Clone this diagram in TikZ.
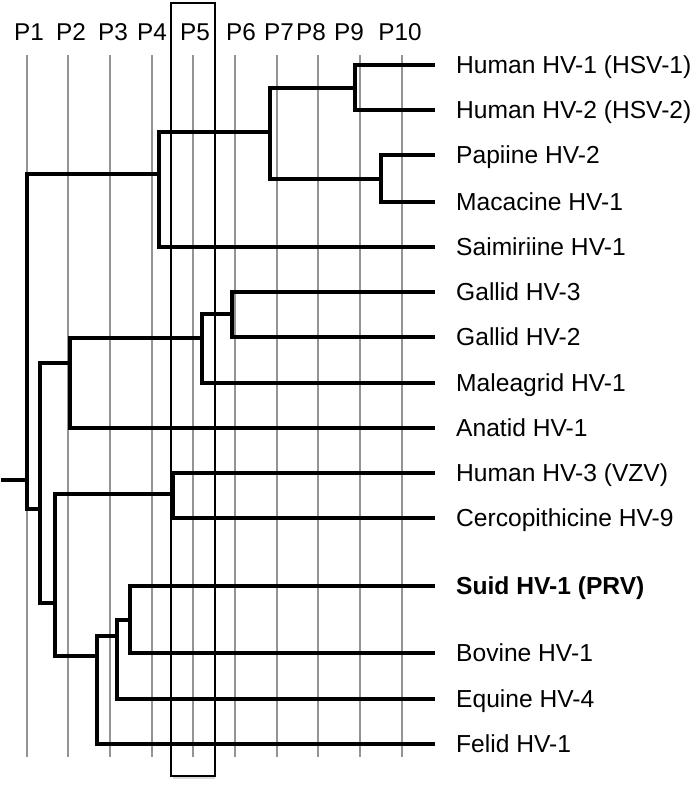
\documentclass[tikz,border=0pt]{standalone}
\usepackage{fontspec}
\setmainfont{Liberation Sans}
\begin{document}
\begin{tikzpicture}[x=1pt,y=-1pt,
  grid/.style={draw=black!42,line width=1.3pt},
  branch/.style={draw=black,line width=4.8pt,line join=miter,line cap=rect},
  plab/.style={anchor=base,inner sep=0pt,font=\fontsize{24.3}{28}\selectfont},
  leaf/.style={anchor=base west,inner sep=0pt,font=\fontsize{24.6}{28}\selectfont},
  hilite/.style={draw=black,line width=1.6pt}]
\useasboundingbox (0,0) rectangle (700,790);
% grid lines
\foreach \x in {27,68,110,152,193,235,277,318,360,402}
  \draw[grid] (\x,55) -- (\x,757);
% P labels
\foreach \x/\t in {29/P1,71/P2,113/P3,152/P4,195/P5,241/P6,279/P7,311/P8,349/P9,400/P10}
  \node[plab] (lab\t) at (\x,40) {\t};
% leaf tips and labels
\foreach \i/\y/\t in {1/65/{Human HV-1 (HSV-1)},2/110/{Human HV-2 (HSV-2)},3/155/{Papiine HV-2},4/202/{Macacine HV-1},5/247/{Saimiriine HV-1},6/292/{Gallid HV-3},7/337/{Gallid HV-2},8/383/{Maleagrid HV-1},9/428/{Anatid HV-1},10/473/{Human HV-3 (VZV)},11/518/{Cercopithicine HV-9},13/653/{Bovine HV-1},14/699/{Equine HV-4},15/744/{Felid HV-1}}{
  \coordinate (t\i) at (433,\y);
  \node[leaf] (name\i) at (456,\y+8.5) {\t};
}
\coordinate (t12) at (433,586);
\node[leaf,font=\fontsize{24.6}{28}\selectfont\bfseries] (name12) at (456,586+8.5) {Suid HV-1 (PRV)};
% internal nodes
\coordinate (stub) at (3,480);
\coordinate (root) at (27,480);
\coordinate (n159) at (159,174);
\coordinate (n270) at (270,132);
\coordinate (n355) at (355,88);
\coordinate (n381) at (381,179);
\coordinate (n40) at (40,509);
\coordinate (n70) at (70,363);
\coordinate (n202) at (202,338);
\coordinate (n232) at (232,314);
\coordinate (n55) at (55,603);
\coordinate (n173) at (173,494);
\coordinate (n97) at (97,656);
\coordinate (n117) at (117,636);
\coordinate (n130) at (130,620);
% branches
\draw[branch] (stub) -- (root);
\draw[branch] (root) |- (n159);
\draw[branch] (root) |- (n40);
\draw[branch] (n159) |- (n270);
\draw[branch] (n159) |- (t5);
\draw[branch] (n270) |- (n355);
\draw[branch] (n270) |- (n381);
\draw[branch] (n355) |- (t1);
\draw[branch] (n355) |- (t2);
\draw[branch] (n381) |- (t3);
\draw[branch] (n381) |- (t4);
\draw[branch] (n40) |- (n70);
\draw[branch] (n40) |- (n55);
\draw[branch] (n70) |- (n202);
\draw[branch] (n70) |- (t9);
\draw[branch] (n202) |- (n232);
\draw[branch] (n202) |- (t8);
\draw[branch] (n232) |- (t6);
\draw[branch] (n232) |- (t7);
\draw[branch] (n55) |- (n173);
\draw[branch] (n55) |- (n97);
\draw[branch] (n173) |- (t10);
\draw[branch] (n173) |- (t11);
\draw[branch] (n97) |- (n117);
\draw[branch] (n97) |- (t15);
\draw[branch] (n117) |- (n130);
\draw[branch] (n117) |- (t14);
\draw[branch] (n130) |- (t12);
\draw[branch] (n130) |- (t13);
% highlight box around P5
\draw[black!15,line width=2pt] (173,778) -- (215,778);
\draw[hilite] (171,3) rectangle (215,776);
\end{tikzpicture}
\end{document}
